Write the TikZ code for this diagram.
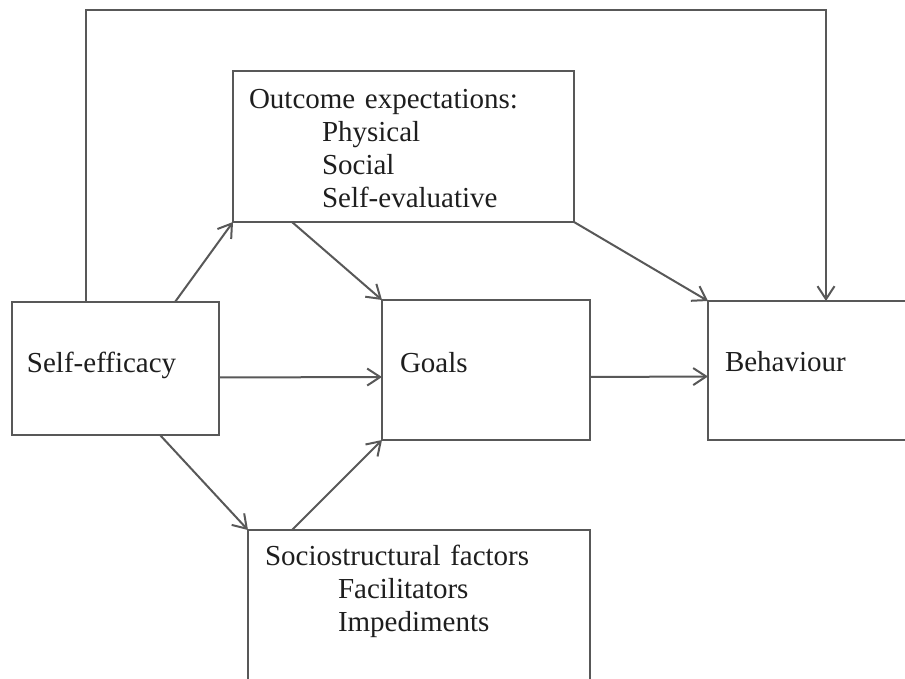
\documentclass[tikz,border=0pt]{standalone}
\usepackage{fontspec}
\setmainfont{Liberation Serif}
\usetikzlibrary{arrows.meta,calc}
\definecolor{lineColor}{RGB}{88,88,88}
\definecolor{labelColor}{RGB}{30,30,30}
\newcommand{\indentsub}{\hspace*{73pt}}
\tikzset{box/.style={draw=lineColor, line width=2pt, outer sep=0pt, anchor=north west, align=left, text=labelColor, font=\fontsize{29}{33}\selectfont, text height=21pt}}
\tikzset{connector/.style={draw=lineColor, line width=2pt, -{Straight Barb[length=13pt, width=17pt]}}}

\begin{document}
\begin{tikzpicture}[x=1pt, y=-1pt]
\useasboundingbox (0,0) rectangle (905,679);
\clip (0,0) rectangle (905,679);
% Nodes
\node (SelfEfficacy) [box, minimum width=207pt, inner xsep=15pt, text width=177pt, inner ysep=49pt, text depth=14pt] at (12,302) {Self-efficacy};
\node (OutcomeExpectations) [box, minimum width=341pt, inner xsep=16pt, text width=309pt, inner ysep=17pt, text depth=96pt] at (233,71) {Outcome expectations:\\ \indentsub Physical\\ \indentsub Social\\ \indentsub Self-evaluative};
\node (Goals) [box, minimum width=208pt, inner xsep=18pt, text width=172pt, inner ysep=51pt, text depth=17pt] at (382,300) {Goals};
\node (Behaviour) [box, minimum width=260pt, inner xsep=17pt, text width=226pt, inner ysep=49pt, text depth=20pt] at (708,301) {Behaviour};
\node (SociostructuralFactors) [box, minimum width=342pt, inner xsep=17pt, text width=308pt, inner ysep=14pt, text depth=130pt] at (248,530) {Sociostructural factors\\ \indentsub Facilitators\\ \indentsub Impediments};

\coordinate (LoopStart) at ($(SelfEfficacy.north west)+(74,0)$);
\coordinate (LoopEnd) at ($(Behaviour.north west)+(118,0)$);
\coordinate (LoopTop) at (0,10);

% Connectors
\draw [connector] (LoopStart) -- (LoopStart |- LoopTop) -| (LoopEnd);

\draw [connector] ($(SelfEfficacy.north west)+(163,0)$) -- (OutcomeExpectations.south west);
\draw [connector] ($(OutcomeExpectations.south west)+(59,0)$) -- (Goals.north west);
\draw [connector] (OutcomeExpectations.south east) -- (Behaviour.north west);

\draw [connector] ($(SelfEfficacy.east)+(0,9)$) -- ($(Goals.west)+(0,7)$);
\draw [connector] ($(Goals.east)+(0,7)$) -- ($(Behaviour.west)+(0,6)$);

\draw [connector] ($(SelfEfficacy.south west)+(148,0)$) -- (SociostructuralFactors.north west);
\draw [connector] ($(SociostructuralFactors.north west)+(44,0)$) -- (Goals.south west);
\end{tikzpicture}
\end{document}
